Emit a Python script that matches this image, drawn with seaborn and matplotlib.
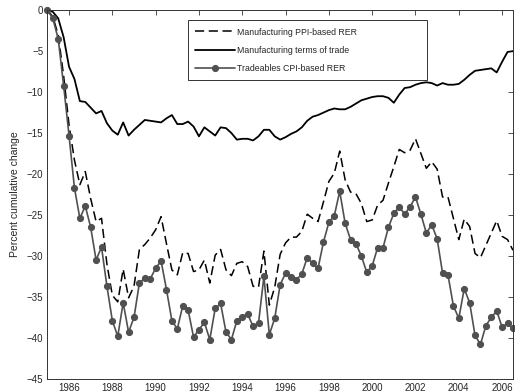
import numpy as np
import pandas as pd
import matplotlib
matplotlib.use("Agg")
import matplotlib.pyplot as plt
import seaborn as sns

# quarterly observations, 1985Q1 - 2006Q3
quarters = np.arange(1985, 2006.51, 0.25)

# Manufacturing PPI-based RER (dashed)
ppi_rer = [0, -0.8, -3.0, -8.0, -14.0, -18.3, -21.3, -19.7, -23.0, -25.8,
           -25.4, -31.0, -34.8, -35.6, -31.6, -35.1, -33.7, -29.2, -28.6, -27.8,
           -26.8, -25.2, -28.5, -31.7, -32.3, -29.6, -29.7, -31.9, -31.7, -30.5,
           -33.3, -29.9, -29.2, -31.7, -32.4, -30.9, -30.7, -31.3, -33.7, -33.8,
           -29.4, -36.0, -33.8, -29.8, -28.4, -27.7, -27.7, -27.0, -24.9, -25.4,
           -25.8, -23.4, -20.9, -19.9, -17.2, -20.7, -22.2, -22.4, -23.6, -25.8,
           -25.6, -23.8, -23.2, -21.1, -19.1, -17.0, -17.4, -17.1, -15.7, -17.5,
           -19.3, -18.5, -19.4, -22.8, -22.8, -25.4, -28.0, -25.5, -26.4, -29.7,
           -30.2, -28.7, -27.2, -25.7, -27.6, -28.0, -29.3]

# Manufacturing terms of trade (solid)
terms_of_trade = [0, -0.2, -1.0, -3.3, -6.9, -8.4, -11.1, -11.2, -11.9, -12.6,
                  -12.3, -13.8, -14.7, -15.2, -13.7, -15.3, -14.6, -14.0, -13.4, -13.5,
                  -13.6, -13.7, -13.2, -12.8, -13.9, -13.9, -13.6, -14.2, -15.4, -14.3,
                  -14.8, -15.3, -14.3, -14.4, -15.0, -15.8, -15.7, -15.7, -15.9, -15.4,
                  -14.6, -14.6, -15.4, -15.8, -15.5, -15.1, -14.8, -14.3, -13.5, -13.0,
                  -12.8, -12.5, -12.2, -12.0, -12.1, -12.1, -11.8, -11.4, -11.0, -10.8,
                  -10.6, -10.5, -10.5, -10.7, -11.3, -10.3, -9.5, -9.4, -9.1, -8.9,
                  -8.8, -8.9, -9.2, -8.9, -9.1, -9.1, -9.0, -8.5, -7.9, -7.4,
                  -7.3, -7.2, -7.1, -7.6, -6.3, -5.1, -5.0]

# Tradeables CPI-based RER (markers)
cpi_rer = [0, -1.0, -3.5, -9.2, -15.3, -21.7, -25.4, -23.9, -26.5, -30.5,
           -28.9, -33.7, -37.9, -39.8, -35.7, -39.3, -37.5, -33.3, -32.7, -32.8,
           -31.5, -30.6, -34.1, -37.9, -38.9, -36.1, -36.6, -39.9, -39.0, -38.1,
           -40.2, -36.4, -35.8, -39.3, -40.2, -37.9, -37.4, -37.1, -38.6, -38.2,
           -32.5, -39.6, -37.6, -33.5, -32.1, -32.6, -32.9, -32.2, -30.2, -30.9,
           -31.5, -28.3, -25.9, -25.1, -22.1, -26.0, -28.0, -28.5, -30.0, -32.0,
           -31.2, -29.0, -29.0, -26.5, -24.8, -24.0, -24.9, -24.0, -22.8, -24.9,
           -27.2, -26.2, -27.9, -32.1, -32.3, -36.1, -37.6, -34.0, -35.7, -39.7,
           -40.8, -38.5, -37.5, -36.7, -38.7, -38.2, -38.8]

labels = ['Manufacturing PPI-based RER', 'Manufacturing terms of trade',
          'Tradeables CPI-based RER']

df = pd.DataFrame({'year': quarters, 'ppi': ppi_rer, 'tot': terms_of_trade,
                   'cpi': cpi_rer})

sns.set_style('white')
plt.rcParams['font.family'] = ['Liberation Sans', 'DejaVu Sans']

fig = plt.figure(figsize=(5.15, 3.91), dpi=100)
ax = fig.add_axes([0.092, 0.031, 0.904, 0.943])

sns.lineplot(data=df, x='year', y='ppi', ax=ax, color='black', lw=1.1,
             linestyle=(0, (6, 3)), label=labels[0])
sns.lineplot(data=df, x='year', y='tot', ax=ax, color='black', lw=1.3,
             label=labels[1])
sns.lineplot(data=df, x='year', y='cpi', ax=ax, color='#505050', lw=1.2,
             marker='o', markersize=4.4, markeredgecolor='#505050',
             markerfacecolor='#505050', label=labels[2], clip_on=False)

ax.set_xlim(1985, 2006.5)
ax.set_ylim(-45, 0)
ax.set_xticks(np.arange(1986, 2007, 2))
ax.set_yticks(np.arange(-45, 1, 5))
ax.tick_params(direction='in', length=3.5, width=0.6, labelsize=7,
               top=True, right=True, color='#333333', pad=3)
ax.set_xlabel('')
ax.set_ylabel('Percent cumulative change', fontsize=7.5, labelpad=5)
for s in ax.spines.values():
    s.set_color('#333333')
    s.set_linewidth(0.7)

leg = ax.legend(loc='upper left', bbox_to_anchor=(0.302, 0.5, 0.513, 0.473),
                mode='expand', borderaxespad=0, fontsize=6.3, handlelength=4.5,
                handletextpad=0.3, labelspacing=1.05, borderpad=0.85,
                fancybox=False, frameon=True)
leg.get_frame().set_edgecolor('black')
leg.get_frame().set_linewidth(0.7)

fig.savefig('out.png', dpi=100)
